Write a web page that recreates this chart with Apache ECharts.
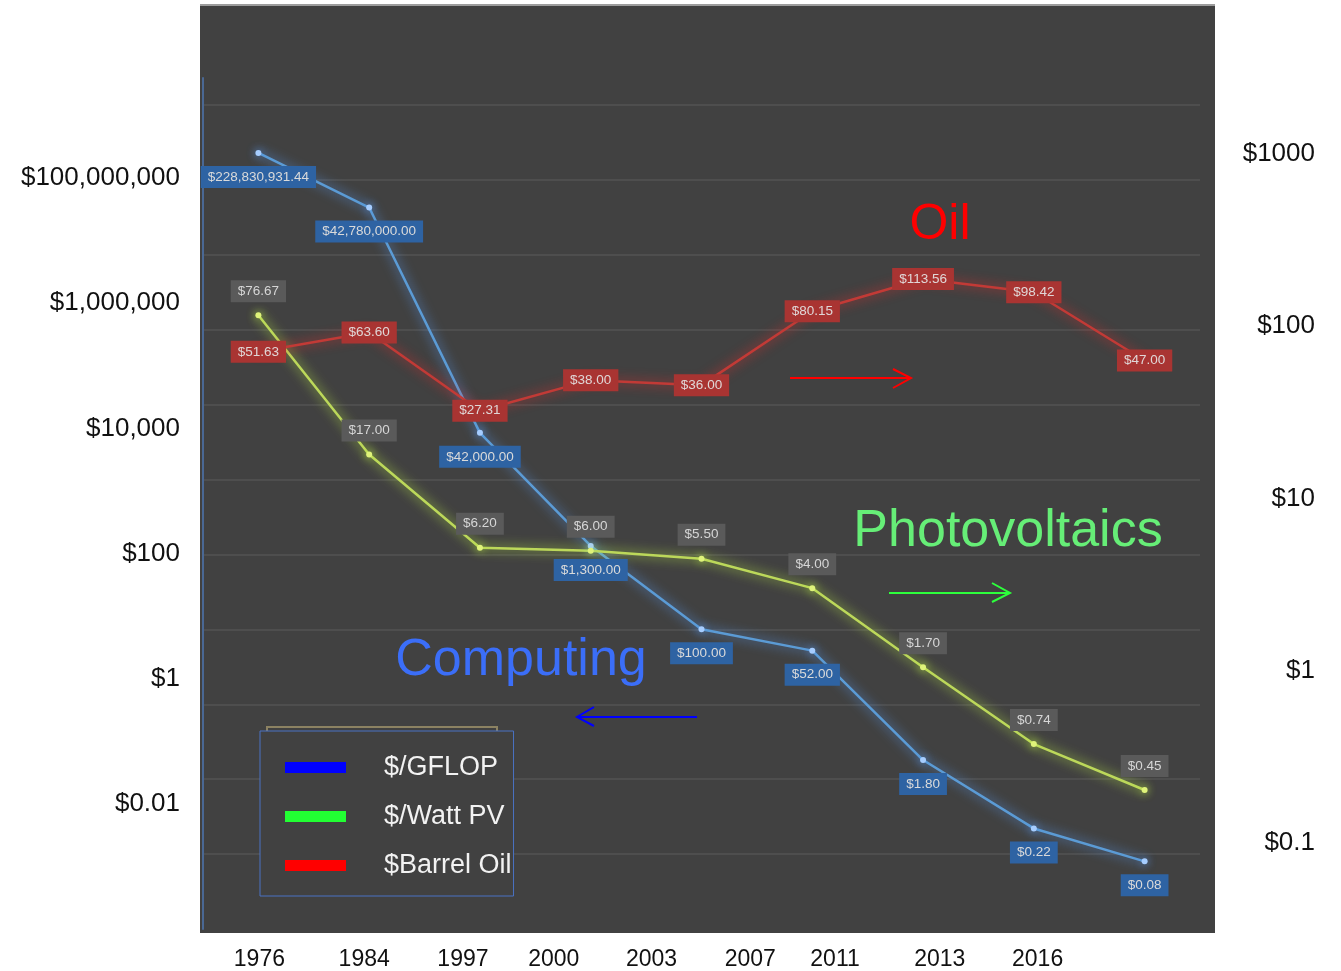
<!DOCTYPE html>
<html>
<head>
<meta charset="utf-8">
<title>Computing, Photovoltaics and Oil</title>
<script src="https://cdn.jsdelivr.net/npm/echarts@6/dist/echarts.min.js"></script>
<style>
  html, body { margin: 0; padding: 0; background: #fff; }
  #chart { width: 1341px; height: 971px; }
</style>
</head>
<body>
<div id="chart"></div>
<script>
// years on the x axis
var years = ['1976', '1984', '1997', '2000', '2003', '2007', '2011', '2013', '2016'];
// $ per GFLOP (left axis)
var gflop = [228830931.44, 42780000.00, 42000.00, 1300.00, 100.00, 52.00, 1.80, 0.22, 0.08];
// $ per Watt PV and $ per barrel (right axis)
var pvWatt = [76.67, 17.00, 6.20, 6.00, 5.50, 4.00, 1.70, 0.74, 0.45];
var oilBarrel = [51.63, 63.60, 27.31, 38.00, 36.00, 80.15, 113.56, 98.42, 47.00];
// tick labels pasted next to the plot
var leftTicks = ['$0.01', '$1', '$100', '$10,000', '$1,000,000', '$100,000,000'];
var rightTicks = ['$0.1', '$1', '$10', '$100', '$1000'];

// year labels in the picture drift left of the points (px)
var yearShift = [1, -5, -17, -37, -50, -62, -88, -94, -107];

var font = '"Liberation Sans", Arial, sans-serif';

function money(v) {
  return '$' + Number(v).toLocaleString('en-US', { minimumFractionDigits: 2, maximumFractionDigits: 2 });
}
function tickAt(list) {
  return function (v) {
    if (Math.abs(v - Math.round(v)) > 1e-6) return '';
    return list[Math.round(v)] || '';
  };
}

var yearItems = years.map(function (y, i) {
  var s = Math.round(yearShift[i] * 2);
  return { value: y, textStyle: { padding: s > 0 ? [0, 0, 0, s] : [0, -s, 0, 0] } };
});

var chart = echarts.init(document.getElementById('chart'));

chart.setOption({
  animation: false,
  backgroundColor: '#ffffff',
  grid: { left: 203, right: 141, top: 78, bottom: 41 },
  graphic: [
    { type: 'rect', z: -10, shape: { x: 200, y: 5, width: 1015, height: 928 }, style: { fill: '#414141' } },
    { type: 'line', z: -9, shape: { x1: 200, y1: 5, x2: 1215, y2: 5 }, style: { stroke: '#9c9c9c', lineWidth: 2 } },
    // old legend frame peeking out above the new one
    { type: 'rect', z: 1, shape: { x: 267, y: 727, width: 230, height: 20 }, style: { fill: 'none', stroke: '#8c8262', lineWidth: 2 } },
    { type: 'text', z: 20, style: { text: 'Oil', x: 940, y: 225, fill: '#ff0000', font: '50px ' + font, textAlign: 'center', textVerticalAlign: 'middle', align: 'center', verticalAlign: 'middle' } },
    { type: 'text', z: 20, style: { text: 'Photovoltaics', x: 1008, y: 532, fill: '#66ee77', font: '52px ' + font, textAlign: 'center', textVerticalAlign: 'middle', align: 'center', verticalAlign: 'middle' } },
    { type: 'text', z: 20, style: { text: 'Computing', x: 521, y: 661, fill: '#3b6ef8', font: '52px ' + font, textAlign: 'center', textVerticalAlign: 'middle', align: 'center', verticalAlign: 'middle' } },
    // arrows
    { type: 'polyline', z: 20, shape: { points: [[790, 378], [911, 378]] }, style: { stroke: '#ff0000', lineWidth: 2, fill: 'none' } },
    { type: 'polyline', z: 20, shape: { points: [[893, 369], [911, 378], [893, 388]] }, style: { stroke: '#ff0000', lineWidth: 2, fill: 'none' } },
    { type: 'polyline', z: 20, shape: { points: [[889, 593], [1010, 593]] }, style: { stroke: '#2dff3c', lineWidth: 2, fill: 'none' } },
    { type: 'polyline', z: 20, shape: { points: [[992, 583], [1010, 593], [992, 602]] }, style: { stroke: '#2dff3c', lineWidth: 2, fill: 'none' } },
    { type: 'polyline', z: 20, shape: { points: [[697, 717], [577, 717]] }, style: { stroke: '#0000ff', lineWidth: 2, fill: 'none' } },
    { type: 'polyline', z: 20, shape: { points: [[594, 707], [577, 717], [594, 726]] }, style: { stroke: '#0000ff', lineWidth: 2, fill: 'none' } }
  ],
  legend: {
    orient: 'vertical',
    left: 260,
    top: 731,
    padding: [23, 2, 17, 25],
    itemGap: 22,
    itemWidth: 61,
    itemHeight: 11,
    icon: 'rect',
    borderColor: '#4a72c4',
    borderWidth: 1,
    backgroundColor: '#414141',
    itemStyle: { borderWidth: 0, shadowBlur: 0 },
    textStyle: { color: '#f2f2f2', fontSize: 27, fontFamily: font, padding: [0, 0, 0, 33] },
    data: [
      { name: '$/GFLOP', itemStyle: { color: '#0000ff' } },
      { name: '$/Watt PV', itemStyle: { color: '#22ff33' } },
      { name: '$Barrel Oil', itemStyle: { color: '#ff0000' } }
    ]
  },
  xAxis: {
    type: 'category',
    data: yearItems,
    boundaryGap: true,
    axisLine: { show: false },
    axisTick: { show: false },
    axisLabel: { interval: 0, margin: 19, color: '#111', fontSize: 23, fontFamily: font }
  },
  yAxis: [
    {
      // data scale for $/GFLOP
      type: 'log', logBase: 10, position: 'left',
      min: 0.01, max: Math.pow(10, 9.36),
      axisLine: { show: true, lineStyle: { color: '#4a6894', width: 2 } },
      axisTick: { show: false }, axisLabel: { show: false }, splitLine: { show: false }
    },
    {
      // data scale for PV and oil
      type: 'log', logBase: 10, position: 'right', show: false,
      min: 0.1, max: 1000
    },
    {
      // one gridline per decade of the left scale
      type: 'value', position: 'left', min: -2, max: 9.36, interval: 1,
      axisLine: { show: false }, axisTick: { show: false }, axisLabel: { show: false },
      splitLine: { show: true, showMinLine: false, showMaxLine: false, lineStyle: { color: '#535353', width: 1.5 } }
    },
    {
      // pasted left labels
      type: 'value', position: 'left', min: -1, max: 5.8, interval: 1,
      axisLine: { show: false }, axisTick: { show: false }, splitLine: { show: false },
      axisLabel: { formatter: tickAt(leftTicks), margin: 23, color: '#111', fontSize: 26, fontFamily: font }
    },
    {
      // pasted right labels
      type: 'value', position: 'right', min: -0.5, max: 4.44, interval: 0.5,
      axisLine: { show: false }, axisTick: { show: false }, splitLine: { show: false },
      axisLabel: { formatter: tickAt(rightTicks), margin: 115, align: 'right', color: '#111', fontSize: 26, fontFamily: font }
    }
  ],
  series: [
    {
      name: '$/GFLOP', type: 'line', yAxisIndex: 0, data: gflop,
      symbol: 'circle', symbolSize: 6,
      lineStyle: { color: '#5b9bd5', width: 2.5, shadowColor: 'rgba(90,160,255,1)', shadowBlur: 12 },
      itemStyle: { color: '#a6cdff', shadowColor: 'rgba(90,160,255,0.9)', shadowBlur: 8 },
      label: {
        show: true, position: 'bottom', distance: 10, formatter: function (p) { return money(p.value); },
        color: '#dadada', fontSize: 13.5, fontFamily: font, backgroundColor: '#2e63a3', padding: [4, 7]
      }
    },
    {
      name: '$/Watt PV', type: 'line', yAxisIndex: 1, data: pvWatt,
      symbol: 'circle', symbolSize: 6,
      lineStyle: { color: '#bcd85a', width: 2.5, shadowColor: 'rgba(200,255,70,1)', shadowBlur: 12 },
      itemStyle: { color: '#dff37a', shadowColor: 'rgba(200,255,70,0.9)', shadowBlur: 8 },
      label: {
        show: true, position: 'top', distance: 10, formatter: function (p) { return money(p.value); },
        color: '#d6d6d6', fontSize: 13.5, fontFamily: font, backgroundColor: '#5a5a5a', padding: [4, 7]
      }
    },
    {
      name: '$Barrel Oil', type: 'line', yAxisIndex: 1, data: oilBarrel,
      symbol: 'circle', symbolSize: 5,
      lineStyle: { color: '#c23a36', width: 2.5, shadowColor: 'rgba(255,40,40,0.9)', shadowBlur: 12 },
      itemStyle: { color: '#d84a44' },
      label: {
        show: true, position: 'inside', formatter: function (p) { return money(p.value); },
        color: '#e0d6d6', fontSize: 13.5, fontFamily: font, backgroundColor: '#a93432', padding: [4, 7]
      }
    }
  ]
});
</script>
</body>
</html>
